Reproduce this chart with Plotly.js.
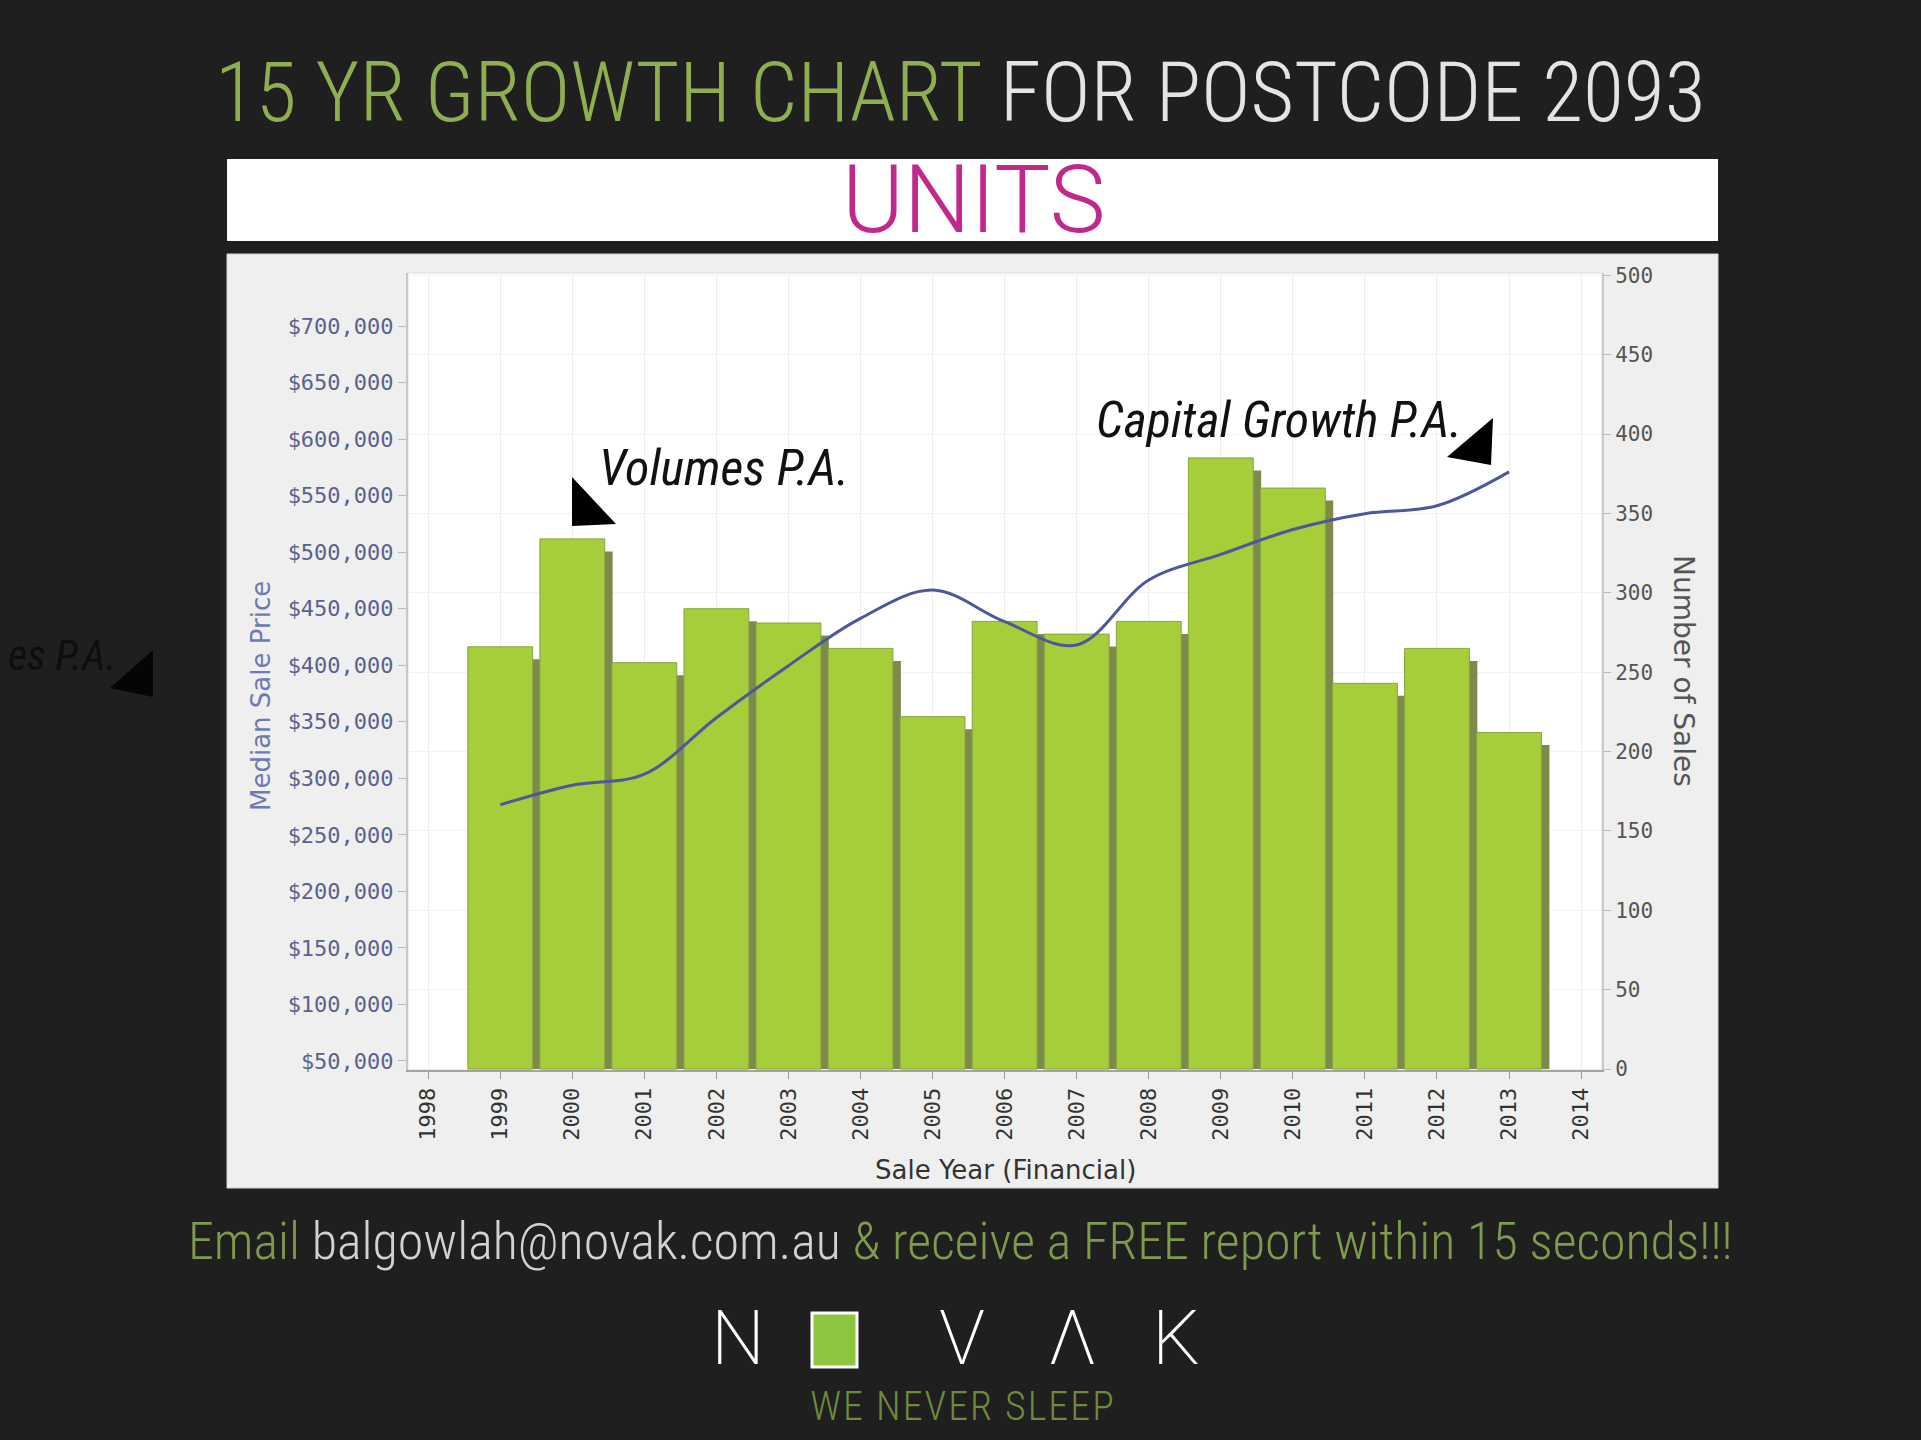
<!DOCTYPE html>
<html>
<head>
<meta charset="utf-8">
<script src="https://cdn.plot.ly/plotly-3.0.1.min.js"></script>
<style>
html,body{margin:0;padding:0;background:#1f1f1f;overflow:hidden;}
#chart{width:1921px;height:1440px;}
g.annotation[data-index="13"] text{letter-spacing:2px;}
</style>
</head>
<body>
<div id="chart"></div>
<script>
// ---------- data ----------
const years = [1999, 2000, 2001, 2002, 2003, 2004, 2005, 2006, 2007, 2008, 2009, 2010, 2011, 2012, 2013];
const numberOfSales = [266, 334, 256, 290, 281, 265, 222, 282, 274, 282, 385, 366, 243, 265, 212];
const medianSalePrice = [276500, 293800, 303600, 353600, 399600, 441500, 466500, 438500, 417900, 475400, 498000, 520000, 534000, 541000, 571000];
const xTickYears = [1998, 1999, 2000, 2001, 2002, 2003, 2004, 2005, 2006, 2007, 2008, 2009, 2010, 2011, 2012, 2013, 2014];
const priceTicks = [50000, 100000, 150000, 200000, 250000, 300000, 350000, 400000, 450000, 500000, 550000, 600000, 650000, 700000];
const priceTickText = priceTicks.map(v => '$' + v.toLocaleString('en-US'));
const salesTicks = [0, 50, 100, 150, 200, 250, 300, 350, 400, 450, 500];

// ---------- layout geometry (pixels) ----------
const W = 1921, H = 1440;
const L = 408, R = 1602, T = 273, B = 1070;
const px = x => (x - L) / (R - L);
const py = y => (B - y) / (B - T);
const salesRange = [-0.6, 501.5];
const priceRange = [42000, 746900];
const shadowDropPx = 12.5;
const shadowDrop = shadowDropPx * (salesRange[1] - salesRange[0]) / (B - T);
const barWidth = 0.9;
const shadowShift = 0.11;

const shadowTrace = {
  type: 'bar', x: years, y: numberOfSales.map(v => v - shadowDrop), yaxis: 'y',
  width: barWidth, offset: -barWidth / 2 + shadowShift,
  marker: {color: '#7c8b4b', line: {width: 0}}, hoverinfo: 'skip', showlegend: false
};
const barTrace = {
  type: 'bar', x: years, y: numberOfSales, yaxis: 'y', name: 'Number of Sales',
  width: barWidth, offset: -barWidth / 2,
  marker: {color: '#a6cd3a', line: {color: '#88a53c', width: 1}}, showlegend: false
};
const lineTrace = {
  type: 'scatter', mode: 'lines', x: years, y: medianSalePrice, yaxis: 'y2', name: 'Median Sale Price',
  line: {color: '#4d589c', width: 3, shape: 'spline', smoothing: 1}, showlegend: false
};

const tri = pts => 'M ' + pts.map(p => px(p[0]) + ',' + py(p[1])).join(' L ') + ' Z';

const titleFont = 'Roboto Condensed, Roboto, sans-serif';
const handFont = 'Roboto Condensed, Roboto, sans-serif';
const logoFont = {family: 'Roboto, sans-serif', size: 76, weight: 200, color: '#ffffff'};

const layout = {
  width: W, height: H,
  margin: {l: L, r: W - R, t: T, b: H - B, pad: 0},
  paper_bgcolor: '#1f1f1f',
  plot_bgcolor: '#ffffff',
  barmode: 'overlay',
  showlegend: false,
  xaxis: {
    range: [1997.72, 2014.29], tickvals: xTickYears, tickangle: -90,
    ticks: 'outside', ticklen: 7, tickcolor: '#999999',
    tickfont: {family: 'DejaVu Sans Mono', size: 22, color: '#333333'},
    showgrid: true, gridcolor: '#ededed', gridwidth: 1,
    showline: true, linecolor: '#a3a3a3', linewidth: 2, zeroline: false, fixedrange: true
  },
  yaxis: {
    side: 'right', range: salesRange, tickvals: salesTicks,
    ticks: 'outside', ticklen: 7, tickcolor: '#bbbbbb',
    tickfont: {family: 'DejaVu Sans Mono', size: 21, color: '#555555'},
    showgrid: true, gridcolor: '#f2f2f2', gridwidth: 1,
    showline: true, linecolor: '#c8c8c8', linewidth: 2, zeroline: false, fixedrange: true
  },
  yaxis2: {
    overlaying: 'y', side: 'left', range: priceRange, tickmode: 'array',
    tickvals: priceTicks, ticktext: priceTickText,
    ticks: 'outside', ticklen: 8, tickcolor: '#bbbbbb',
    tickfont: {family: 'DejaVu Sans Mono', size: 22, color: '#5a628c'},
    showgrid: false, showline: true, linecolor: '#c8c8c8', linewidth: 2, zeroline: false, fixedrange: true
  },
  shapes: [
    {type: 'rect', xref: 'paper', yref: 'paper', x0: px(227), x1: px(1718), y0: py(1188), y1: py(254),
     fillcolor: '#efefef', line: {color: '#d6d6d6', width: 1}, layer: 'below'},
    {type: 'rect', xref: 'paper', yref: 'paper', x0: px(227), x1: px(1718), y0: py(241), y1: py(159),
     fillcolor: '#ffffff', line: {width: 0}, layer: 'below'},
    {type: 'rect', xref: 'paper', yref: 'paper', x0: 0, x1: 1, y0: 0, y1: 1,
     fillcolor: '#ffffff', line: {color: '#dddddd', width: 1}, layer: 'below'},
    {type: 'path', xref: 'paper', yref: 'paper', path: tri([[572, 477], [572, 526], [616, 524]]),
     fillcolor: '#000000', line: {width: 0}},
    {type: 'path', xref: 'paper', yref: 'paper', path: tri([[1493, 418], [1491, 465], [1447, 457]]),
     fillcolor: '#000000', line: {width: 0}},
    {type: 'path', xref: 'paper', yref: 'paper', path: tri([[153, 650], [153, 697], [110, 688]]),
     fillcolor: '#050505', line: {width: 0}},
    {type: 'rect', xref: 'paper', yref: 'paper', x0: px(812), x1: px(857), y0: py(1367), y1: py(1313),
     fillcolor: '#8cc63f', line: {color: '#ffffff', width: 3}}
  ],
  annotations: [
    {xref: 'paper', yref: 'paper', x: px(960), y: py(93), xanchor: 'center', yanchor: 'middle', showarrow: false,
     text: '<span style="color:#8eae52">15 YR GROWTH CHART</span> FOR POSTCODE 2093',
     font: {family: titleFont, size: 84, weight: 300, color: '#e4e4e4'}},
    {xref: 'paper', yref: 'paper', x: px(973), y: py(200), xanchor: 'center', yanchor: 'middle', showarrow: false,
     text: 'UNITS', font: {family: 'Roboto, sans-serif', size: 94, weight: 300, color: '#c0288c'}},
    {xref: 'paper', yref: 'paper', x: px(261), y: py(696), xanchor: 'center', yanchor: 'middle', showarrow: false,
     textangle: -90, text: 'Median Sale Price', font: {family: 'DejaVu Sans', size: 26, color: '#6d7ab3'}},
    {xref: 'paper', yref: 'paper', x: px(1684), y: py(671), xanchor: 'center', yanchor: 'middle', showarrow: false,
     textangle: 90, text: 'Number of Sales', font: {family: 'DejaVu Sans', size: 28, color: '#555555'}},
    {xref: 'paper', yref: 'paper', x: px(1005), y: py(1170), xanchor: 'center', yanchor: 'middle', showarrow: false,
     text: 'Sale Year (Financial)', font: {family: 'DejaVu Sans', size: 26, color: '#333333'}},
    {xref: 'paper', yref: 'paper', x: px(597), y: py(468), xanchor: 'left', yanchor: 'middle', showarrow: false,
     text: 'Volumes P.A.', font: {family: handFont, size: 50, style: 'italic', color: '#111111'}},
    {xref: 'paper', yref: 'paper', x: px(1094), y: py(420), xanchor: 'left', yanchor: 'middle', showarrow: false,
     text: 'Capital Growth P.A.', font: {family: handFont, size: 50, style: 'italic', color: '#111111'}},
    {xref: 'paper', yref: 'paper', x: px(118), y: py(655), xanchor: 'right', yanchor: 'middle', showarrow: false,
     text: 'es P.A.', font: {family: handFont, size: 42, style: 'italic', color: '#0e0e0e'}},
    {xref: 'paper', yref: 'paper', x: px(960), y: py(1241), xanchor: 'center', yanchor: 'middle', showarrow: false,
     text: 'Email <span style="color:#d2d2d2">balgowlah@novak.com.au</span> &amp; receive a FREE report within 15 seconds!!!',
     font: {family: titleFont, size: 52, weight: 300, color: '#7e9a4c'}},
    {xref: 'paper', yref: 'paper', x: px(738), y: py(1338), xanchor: 'center', yanchor: 'middle', showarrow: false,
     height: 72, text: 'N', font: logoFont},
    {xref: 'paper', yref: 'paper', x: px(962), y: py(1338), xanchor: 'center', yanchor: 'middle', showarrow: false,
     height: 72, text: 'V', font: logoFont},
    {xref: 'paper', yref: 'paper', x: px(1072), y: py(1338), xanchor: 'center', yanchor: 'middle', showarrow: false,
     height: 72, text: 'Λ', font: logoFont},
    {xref: 'paper', yref: 'paper', x: px(1176), y: py(1338), xanchor: 'center', yanchor: 'middle', showarrow: false,
     height: 72, text: 'K', font: logoFont},
    {xref: 'paper', yref: 'paper', x: px(963), y: py(1406), xanchor: 'center', yanchor: 'middle', showarrow: false,
     width: 340, height: 36, text: 'WE NEVER SLEEP', font: {family: titleFont, size: 40, weight: 300, color: '#6e8a3c'}}
  ]
};

Plotly.newPlot('chart', [shadowTrace, barTrace, lineTrace], layout, {displayModeBar: false, staticPlot: true});
</script>
</body>
</html>
